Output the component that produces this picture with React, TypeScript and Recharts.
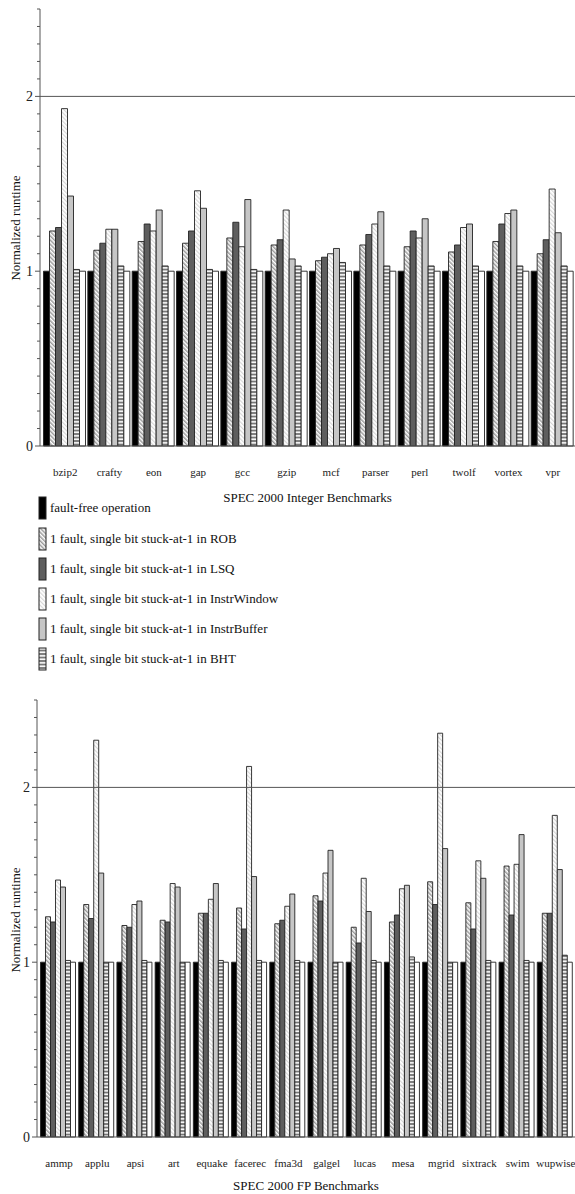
import React from 'react';
import { BarChart, Bar, XAxis, YAxis, ReferenceLine } from 'recharts';

const intCategories = ['bzip2', 'crafty', 'eon', 'gap', 'gcc', 'gzip', 'mcf', 'parser', 'perl', 'twolf', 'vortex', 'vpr'];
const intFaultFree = [1, 1, 1, 1, 1, 1, 1, 1, 1, 1, 1, 1];
const intROB = [1.23, 1.12, 1.17, 1.16, 1.19, 1.15, 1.06, 1.15, 1.14, 1.11, 1.17, 1.10];
const intLSQ = [1.25, 1.16, 1.27, 1.23, 1.28, 1.18, 1.08, 1.21, 1.23, 1.15, 1.27, 1.18];
const intIW = [1.93, 1.24, 1.23, 1.46, 1.14, 1.35, 1.10, 1.27, 1.19, 1.25, 1.33, 1.47];
const intIB = [1.43, 1.24, 1.35, 1.36, 1.41, 1.07, 1.13, 1.34, 1.30, 1.27, 1.35, 1.22];
const intBHT = [1.01, 1.03, 1.03, 1.01, 1.01, 1.03, 1.05, 1.03, 1.03, 1.03, 1.03, 1.03];
const intOther = [1, 1, 1, 1, 1, 1, 1, 1, 1, 1, 1, 1];

const fpCategories = ['ammp', 'applu', 'apsi', 'art', 'equake', 'facerec', 'fma3d', 'galgel', 'lucas', 'mesa', 'mgrid', 'sixtrack', 'swim', 'wupwise'];
const fpFaultFree = [1, 1, 1, 1, 1, 1, 1, 1, 1, 1, 1, 1, 1, 1];
const fpROB = [1.26, 1.33, 1.21, 1.24, 1.28, 1.31, 1.22, 1.38, 1.20, 1.23, 1.46, 1.34, 1.55, 1.28];
const fpLSQ = [1.23, 1.25, 1.20, 1.23, 1.28, 1.19, 1.24, 1.35, 1.11, 1.27, 1.33, 1.19, 1.27, 1.28];
const fpIW = [1.47, 2.27, 1.33, 1.45, 1.36, 2.12, 1.32, 1.51, 1.48, 1.42, 2.31, 1.58, 1.56, 1.84];
const fpIB = [1.43, 1.51, 1.35, 1.43, 1.45, 1.49, 1.39, 1.64, 1.29, 1.44, 1.65, 1.48, 1.73, 1.53];
const fpBHT = [1.01, 1.00, 1.01, 1.00, 1.01, 1.01, 1.01, 1.00, 1.01, 1.03, 1.00, 1.01, 1.01, 1.04];
const fpOther = [1, 1, 1, 1, 1, 1, 1, 1, 1, 1, 1, 1, 1, 1];

const yTicks = [0, 0.1, 0.2, 0.3, 0.4, 0.5, 0.6, 0.7, 0.8, 0.9, 1, 1.1, 1.2, 1.3, 1.4, 1.5, 1.6, 1.7, 1.8, 1.9, 2, 2.1, 2.2, 2.3, 2.4, 2.5];
const yLabelTicks = [0, 1, 2];

const legendLabels = [
  'fault-free operation',
  '1 fault, single bit stuck-at-1 in ROB',
  '1 fault, single bit stuck-at-1 in LSQ',
  '1 fault, single bit stuck-at-1 in InstrWindow',
  '1 fault, single bit stuck-at-1 in InstrBuffer',
  '1 fault, single bit stuck-at-1 in BHT',
];

const FONT = '"Liberation Serif", "Times New Roman", serif';
const STROKE = '#222222';

const seriesKeys = ['ff', 'rob', 'lsq', 'iw', 'ib', 'bht', 'other'];

function buildRows(cats: string[], cols: number[][]) {
  return cats.map((c, i) => {
    const row: any = { name: c };
    seriesKeys.forEach((k, j) => {
      row[k] = cols[j][i];
    });
    return row;
  });
}

const intRows = buildRows(intCategories, [intFaultFree, intROB, intLSQ, intIW, intIB, intBHT, intOther]);
const fpRows = buildRows(fpCategories, [fpFaultFree, fpROB, fpLSQ, fpIW, fpIB, fpBHT, fpOther]);

function Patterns({ p }: { p: string }) {
  return (
    <defs>
      <pattern id={p + 'rob'} patternUnits="userSpaceOnUse" width="3" height="3" patternTransform="rotate(-45)">
        <rect width="3" height="3" fill="#ffffff" />
        <rect width="1.5" height="3" fill="#9a9a9a" />
      </pattern>
      <pattern id={p + 'iw'} patternUnits="userSpaceOnUse" width="3" height="3" patternTransform="rotate(-45)">
        <rect width="3" height="3" fill="#ffffff" />
        <rect width="1.2" height="3" fill="#d6d6d6" />
      </pattern>
      <pattern id={p + 'bht'} patternUnits="userSpaceOnUse" width="4" height="3.5">
        <rect width="4" height="3.5" fill="#777777" />
        <rect x="0" y="1" width="4" height="1.6" fill="#ffffff" />
      </pattern>
    </defs>
  );
}

const YTick = (props: any) => {
  const { x, y, payload } = props;
  const v = payload.value;
  const major = yLabelTicks.includes(v);
  return (
    <g>
      <line x1={x} y1={y} x2={x - (major ? 5 : 3)} y2={y} stroke="#555" strokeWidth={1} />
      {major && (
        <text x={x - 7} y={y} textAnchor="end" dominantBaseline="central" fontSize={14} fontFamily={FONT} fill="#222">
          {v}
        </text>
      )}
    </g>
  );
};

const XTick = (props: any) => {
  const { x, y, payload } = props;
  return (
    <text x={x} y={y} textAnchor="middle" dominantBaseline="central" fontSize={11} fontFamily={FONT} fill="#222">
      {payload.value}
    </text>
  );
};

function fills(p: string) {
  return [
    '#000000',
    `url(#${p}rob)`,
    '#5e5e5e',
    `url(#${p}iw)`,
    '#c6c6c6',
    `url(#${p}bht)`,
    '#ffffff',
  ];
}

function Chart(props: {
  rows: any[];
  p: string;
  width: number;
  height: number;
  marginTop: number;
  axisWidth: number;
  axisHeight: number;
  padLeft: number;
  title: string;
  titleDy: number;
  labelY: number;
}) {
  const { rows, p, width, height, marginTop, axisWidth, axisHeight, padLeft, title, titleDy, labelY } = props;
  const f = fills(p);
  return (
    <BarChart
      width={width}
      height={height}
      data={rows}
      margin={{ top: marginTop, right: 0, bottom: 0, left: 0 }}
      barCategoryGap={0.5}
      barGap={0}
    >
      <Patterns p={p} />
      <XAxis
        dataKey="name"
        interval={0}
        height={axisHeight}
        tickSize={0}
        tickMargin={26}
        tickLine={false}
        tick={<XTick />}
        padding={{ left: padLeft, right: 0 }}
        axisLine={{ stroke: '#555', strokeWidth: 1 }}
        label={{
          content: (lp: any) => {
            const vb = lp.viewBox;
            return (
              <text
                x={vb.x + vb.width / 2}
                y={vb.y + titleDy}
                textAnchor="middle"
                dominantBaseline="central"
                fontSize={13}
                fontFamily={FONT}
                fill="#111"
              >
                {title}
              </text>
            );
          },
        }}
      />
      <YAxis
        width={axisWidth}
        domain={[0, 2.5]}
        ticks={yTicks}
        interval={0}
        tickSize={0}
        tickMargin={0}
        tickLine={false}
        tick={<YTick />}
        axisLine={{ stroke: '#555', strokeWidth: 1 }}
        label={{
          content: () => (
            <text
              x={15}
              y={labelY}
              textAnchor="middle"
              dominantBaseline="central"
              fontSize={13}
              fontFamily={FONT}
              fill="#111"
              transform={`rotate(-90, 15, ${labelY})`}
            >
              Normalized runtime
            </text>
          ),
        }}
      />
      <ReferenceLine y={2} stroke="#555" strokeWidth={1} />
      {seriesKeys.map((k, i) => (
        <Bar key={k} dataKey={k} fill={f[i]} stroke={STROKE} strokeWidth={0.9} isAnimationActive={false} />
      ))}
    </BarChart>
  );
}

function LegendSwatch({ kind }: { kind: number }) {
  const w = 7;
  const h = 22;
  const f = fills('lg');
  return (
    <svg width={w + 2} height={h + 2} style={{ display: 'block' }}>
      <Patterns p="lg" />
      <rect x={1} y={1} width={w} height={h} fill={f[kind]} stroke={STROKE} strokeWidth={1} />
    </svg>
  );
}

const legendY = [508, 539, 569, 599, 629, 659];

export default function App() {
  return (
    <div style={{ position: 'absolute', left: 0, top: 0, width: 575, height: 1194, overflow: 'hidden', background: '#fff' }}>
      <div style={{ position: 'absolute', left: 0, top: 0 }}>
        <Chart
          rows={intRows}
          p="int"
          width={575}
          height={520}
          marginTop={9}
          axisWidth={40}
          axisHeight={74}
          padLeft={3}
          title="SPEC 2000 Integer Benchmarks"
          titleDy={51}
          labelY={228}
        />
      </div>
      {legendLabels.map((t, i) => (
        <div
          key={t}
          style={{
            position: 'absolute',
            left: 38,
            top: legendY[i] - 12,
            height: 24,
            display: 'flex',
            alignItems: 'center',
            fontFamily: FONT,
            fontSize: 13,
            color: '#111',
            whiteSpace: 'nowrap',
          }}
        >
          <LegendSwatch kind={i} />
          <span style={{ marginLeft: 3 }}>{t}</span>
        </div>
      ))}
      <div style={{ position: 'absolute', left: 0, top: 690 }}>
        <Chart
          rows={fpRows}
          p="fp"
          width={575}
          height={504}
          marginTop={10}
          axisWidth={37}
          axisHeight={57}
          padLeft={3}
          title="SPEC 2000 FP Benchmarks"
          titleDy={48}
          labelY={230}
        />
      </div>
    </div>
  );
}
